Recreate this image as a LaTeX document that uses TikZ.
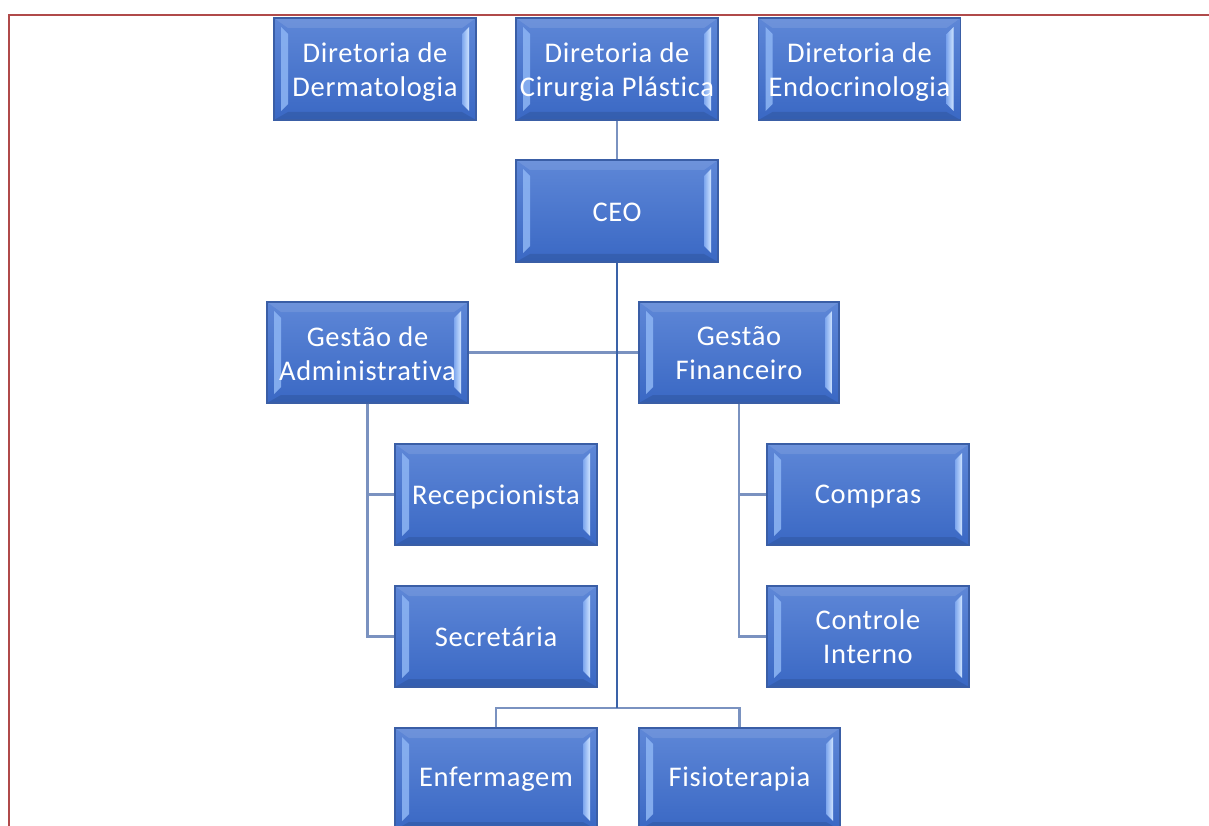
\documentclass[tikz,border=0pt]{standalone}
\usepackage{fontspec}
\setmainfont{Carlito}[LetterSpace=2.5, Ligatures={NoCommon}]
\usetikzlibrary{calc}
\newcommand\lowr[2][3pt]{\raisebox{-#1}[\height][\depth]{#2}}
\definecolor{frame}{HTML}{B04A4A}
\definecolor{boxedge}{HTML}{3A5EA6}
\definecolor{boxtop}{HTML}{5E87D7}
\definecolor{boxbot}{HTML}{3A68C4}
\definecolor{bevL}{HTML}{8AB2F2}
\definecolor{bevR1}{HTML}{7DA6EE}
\definecolor{bevR2}{HTML}{CFE4FF}
\definecolor{linklight}{HTML}{7A92C0}
\definecolor{linkmain}{HTML}{3A62A8}
\tikzset{
  orgbox/.style={draw=boxedge, line width=1.3pt, top color=boxtop, bottom color=boxbot,
    minimum width=202pt, minimum height=102pt, inner sep=0pt, text=white,
    font=\fontsize{28.5}{34}\selectfont, align=center,
    path picture={
      \coordinate (nw) at (path picture bounding box.north west);
      \coordinate (ne) at (path picture bounding box.north east);
      \coordinate (sw) at (path picture bounding box.south west);
      \coordinate (se) at (path picture bounding box.south east);
      \fill[white, opacity=0.10] (nw) -- (ne) -- ($(ne)+(-14,10)$) -- ($(nw)+(14,10)$) -- cycle;
      \fill[black, opacity=0.10] (sw) -- (se) -- ($(se)+(-14,-8)$) -- ($(sw)+(14,-8)$) -- cycle;
      \fill[bevL, opacity=0.9] ($(nw)+(7,9)$) -- ($(nw)+(14,16)$) -- ($(sw)+(14,-16)$) -- ($(sw)+(7,-9)$) -- cycle;
      \shade[left color=bevR1, right color=bevR2] ($(ne)+(-7,9)$) -- ($(ne)+(-14,16)$) -- ($(se)+(-14,-16)$) -- ($(se)+(-7,-9)$) -- cycle;
    }},
  lightlink/.style={draw=linklight, line width=2.8pt},
  mainlink/.style={draw=linkmain, line width=2.8pt},
}
\begin{document}
\begin{tikzpicture}[x=1pt, y=-1pt]
\useasboundingbox (0,0) rectangle (1209,826);
\fill[white] (0,0) rectangle (1209,826);
\draw[frame, line width=2.8pt] (9,840) -- (9,15) -- (1220,15);

\node[orgbox] (der) at (375,69) {\lowr{Diretoria de}\\\lowr{Dermatologia}};
\node[orgbox] (cir) at (617,69) {\lowr{Diretoria de}\\\lowr{Cirurgia Plástica}};
\node[orgbox] (endo) at (859.5,69) {\lowr{Diretoria de}\\\lowr{Endocrinologia}};
\node[orgbox] (ceo) at (617,211) {\lowr[1pt]{CEO}};
\node[orgbox, minimum width=201pt, minimum height=101pt] (adm) at (367.5,352.5) {\lowr[1pt]{Gestão de}\\\lowr[1pt]{Administrativa}};
\node[orgbox, minimum width=200pt, minimum height=101pt] (fin) at (739,352.5) {\lowr[1pt]{Gestão}\\\lowr[1pt]{Financeiro}};
\node[orgbox, minimum height=101pt] (rec) at (496,494.5) {\lowr[2pt]{Recepcionista}};
\node[orgbox, minimum height=101pt] (com) at (868,494.5) {\lowr[2pt]{Compras}};
\node[orgbox, minimum height=101pt] (sec) at (496,636.5) {\lowr[0pt]{Secretária}};
\node[orgbox, minimum height=101pt] (ctl) at (868,636.5) {\lowr[0pt]{Controle}\\\lowr[0pt]{Interno}};
\node[orgbox] (enf) at (496,779) {\lowr[0pt]{Enfermagem}};
\node[orgbox, minimum width=201pt] (fis) at (739.5,779) {\lowr[0pt]{Fisioterapia}};

\coordinate (j) at (617,708);

\draw[lightlink] (cir.south) -- (ceo.north);
\draw[lightlink] (adm.east) -- (fin.west);
\draw[lightlink] (adm.south) |- (rec.west);
\draw[lightlink] (adm.south) |- (sec.west);
\draw[lightlink] (fin.south) |- (com.west);
\draw[lightlink] (fin.south) |- (ctl.west);
\draw[lightlink] (enf.north) |- (j) -| (fis.north);
\draw[mainlink] (ceo.south) -- (j);
\end{tikzpicture}
\end{document}
